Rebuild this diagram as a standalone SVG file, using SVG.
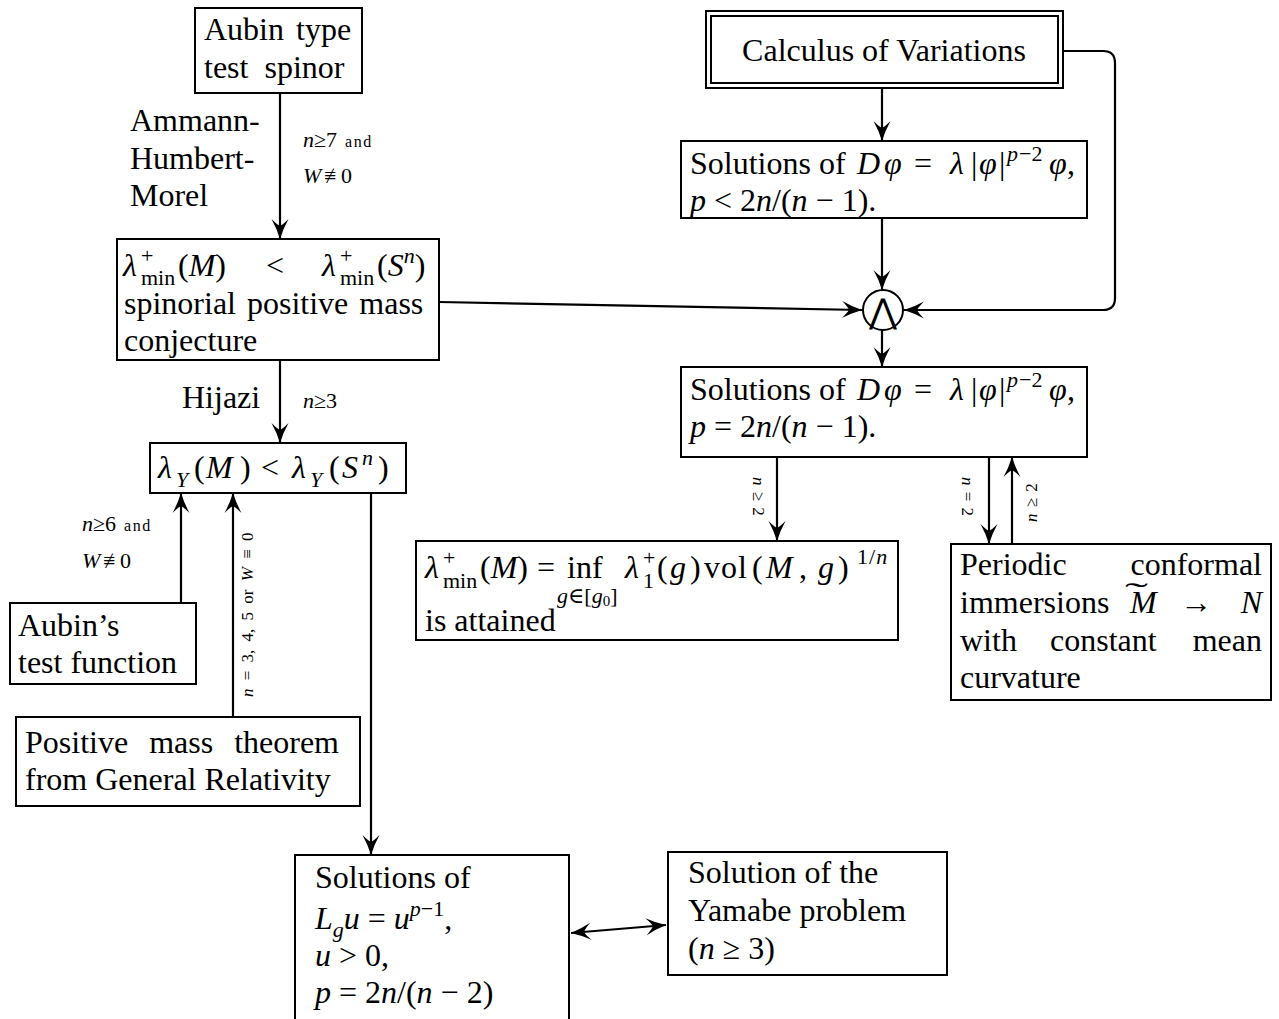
<svg xmlns="http://www.w3.org/2000/svg" width="1279" height="1019" viewBox="0 0 1279 1019">
<style>
.b{fill:#fff;stroke:#000;stroke-width:2}
text{font-family:"Liberation Serif","DejaVu Serif",serif;font-size:32px;fill:#000}
.i{font-style:italic}
.s{font-size:22px}
.m{font-size:22px}
.a{font-size:16px;letter-spacing:1.5px}
.r{font-size:17px}
.c{fill:none;stroke:#000;stroke-width:2.2;marker-end:url(#ah)}
</style>
<defs>
<marker id="ah" viewBox="-22 -10 23 20" refX="0" refY="0" markerWidth="23" markerHeight="20" markerUnits="userSpaceOnUse" orient="auto-start-reverse">
<path d="M0,0 Q-11,-3.5 -20,-8.5 Q-14.5,-3 -13,0 Q-14.5,3 -20,8.5 Q-11,3.5 0,0 Z" fill="#000"/>
</marker>
</defs>

<g id="connectors">
<path class="c" d="M280,93 V239"/>
<path class="c" d="M280,360 V443"/>
<path class="c" d="M181,603 V493"/>
<path class="c" d="M233,717 V493"/>
<path class="c" d="M371,493 V855"/>
<path class="c" d="M571,933 L666,925" style="marker-start:url(#ah)"/>
<path class="c" d="M882,88 V141"/>
<path class="c" d="M882,218 V290"/>
<path class="c" d="M439,302 L862,310"/>
<path class="c" d="M1063,51 H1103 Q1115,51 1115,63 V298 Q1115,310 1103,310 H904"/>
<path class="c" d="M882,330 V367"/>
<path class="c" d="M777,457 V541"/>
<path class="c" d="M989,457 V544"/>
<path class="c" d="M1012,544 V457"/>
</g>

<g id="labels">
<text x="130" y="131">Ammann-</text>
<text x="130" y="169">Humbert-</text>
<text x="130" y="206">Morel</text>
<text x="303" y="147" class="m"><tspan class="i">n</tspan>≥7<tspan class="a" dx="8">and</tspan></text>
<text x="303" y="183" class="m"><tspan class="i">W</tspan><tspan x="324">≢</tspan><tspan x="341">0</tspan></text>
<text x="182" y="408">Hijazi</text>
<text x="303" y="408" class="m"><tspan class="i">n</tspan>≥3</text>
<text x="82" y="531" class="m"><tspan class="i">n</tspan>≥6<tspan class="a" dx="8">and</tspan></text>
<text x="82" y="568" class="m"><tspan class="i">W</tspan><tspan x="103">≢</tspan><tspan x="120">0</tspan></text>
<text class="r" transform="translate(253,697) rotate(-90)" word-spacing="4"><tspan class="i">n</tspan> = 3, 4, 5 or <tspan class="i">W</tspan> ≡ 0</text>
<text class="r" transform="translate(753,477) rotate(90)" word-spacing="2"><tspan class="i">n</tspan> ≥ 2</text>
<text class="r" transform="translate(962,477) rotate(90)" word-spacing="2"><tspan class="i">n</tspan> = 2</text>
<text class="r" transform="translate(1037,522) rotate(-90)" word-spacing="2"><tspan class="i">n</tspan> ≥ 2</text>
</g>

<g id="aubin-spinor">
<rect class="b" x="195" y="8" width="167" height="85"/>
<text x="204" y="40" word-spacing="4">Aubin type</text>
<text x="204" y="78" word-spacing="8">test spinor</text>
</g>

<g id="spinorial-pmc">
<rect class="b" x="117" y="239" width="322" height="121"/>
<text x="123" y="276" class="i">λ</text>
<text x="141" y="263" class="s">+</text>
<text x="141" y="285" class="s">min</text>
<text x="178" y="276">(<tspan class="i">M</tspan>)</text>
<text x="266" y="276">&lt;</text>
<text x="322" y="276" class="i">λ</text>
<text x="340" y="263" class="s">+</text>
<text x="340" y="285" class="s">min</text>
<text x="377" y="276">(<tspan class="i">S</tspan><tspan class="s i" dy="-13">n</tspan><tspan dy="13">)</tspan></text>
<text x="124" y="314" word-spacing="3">spinorial positive mass</text>
<text x="124" y="351">conjecture</text>
</g>

<g id="yamabe-ineq">
<rect class="b" x="150" y="443" width="256" height="50"/>
<text x="158" y="478" class="i">λ</text>
<text x="176" y="487" class="s i">Y</text>
<text x="194" y="478">(</text>
<text x="206" y="478" class="i">M</text>
<text x="240" y="478">)</text>
<text x="261" y="478">&lt;</text>
<text x="292" y="478" class="i">λ</text>
<text x="310" y="487" class="s i">Y</text>
<text x="329" y="478">(</text>
<text x="342" y="478" class="i">S</text>
<text x="362" y="465" class="s i">n</text>
<text x="378" y="478">)</text>
</g>

<g id="aubin-test-function">
<rect class="b" x="10" y="603" width="186" height="81"/>
<text x="18" y="636">Aubin’s</text>
<text x="18" y="673">test function</text>
</g>

<g id="positive-mass">
<rect class="b" x="16" y="717" width="344" height="89"/>
<text x="25" y="753" word-spacing="13">Positive mass theorem</text>
<text x="25" y="790">from General Relativity</text>
</g>

<g id="solutions-lg">
<rect class="b" x="295" y="855" width="274" height="200"/>
<text x="315" y="888">Solutions of</text>
<text x="315" y="929"><tspan class="i">L</tspan><tspan class="s i" dy="8">g</tspan><tspan class="i" dy="-8">u</tspan> = <tspan class="i">u</tspan><tspan class="s" dy="-13"><tspan class="i">p</tspan>−1</tspan><tspan dy="13">,</tspan></text>
<text x="315" y="966"><tspan class="i">u</tspan> &gt; 0,</text>
<text x="315" y="1003"><tspan class="i">p</tspan> = 2<tspan class="i">n</tspan>/(<tspan class="i">n</tspan> − 2)</text>
</g>

<g id="yamabe-solution">
<rect class="b" x="668" y="852" width="279" height="123"/>
<text x="688" y="883">Solution of the</text>
<text x="688" y="921">Yamabe problem</text>
<text x="688" y="959">(<tspan class="i">n</tspan> ≥ 3)</text>
</g>

<g id="calculus">
<rect class="b" x="706" y="11" width="357" height="77"/>
<rect class="b" x="711" y="16" width="347" height="67"/>
<text x="884" y="61" text-anchor="middle">Calculus of Variations</text>
</g>

<g id="solutions-subcritical">
<rect class="b" x="681" y="141" width="406" height="77"/>
<text x="690" y="174">Solutions of <tspan x="857" class="i">D</tspan><tspan x="884" class="i">φ</tspan><tspan x="914">=</tspan><tspan x="950" class="i">λ</tspan><tspan x="971">|</tspan><tspan x="979" class="i">φ</tspan><tspan x="999">|</tspan><tspan x="1007" dy="-13" class="s i">p</tspan><tspan x="1019" class="s">−2</tspan><tspan x="1049" dy="13" class="i">φ</tspan><tspan x="1067">,</tspan></text>
<text x="690" y="211"><tspan class="i">p</tspan> &lt; 2<tspan class="i">n</tspan>/(<tspan class="i">n</tspan> − 1).</text>
</g>

<g id="wedge">
<circle cx="883" cy="310" r="20" fill="#fff" stroke="#000" stroke-width="2"/>
<text x="883" y="323" text-anchor="middle" style="font-family:'DejaVu Serif',serif;font-size:34px">⋀</text>
</g>

<g id="solutions-critical">
<rect class="b" x="681" y="367" width="406" height="90"/>
<text x="690" y="400">Solutions of <tspan x="857" class="i">D</tspan><tspan x="884" class="i">φ</tspan><tspan x="914">=</tspan><tspan x="950" class="i">λ</tspan><tspan x="971">|</tspan><tspan x="979" class="i">φ</tspan><tspan x="999">|</tspan><tspan x="1007" dy="-13" class="s i">p</tspan><tspan x="1019" class="s">−2</tspan><tspan x="1049" dy="13" class="i">φ</tspan><tspan x="1067">,</tspan></text>
<text x="690" y="437"><tspan class="i">p</tspan> = 2<tspan class="i">n</tspan>/(<tspan class="i">n</tspan> − 1).</text>
</g>

<g id="lambda-attained">
<rect class="b" x="416" y="541" width="482" height="99"/>
<text x="425" y="578" class="i">λ</text>
<text x="443" y="565" class="s">+</text>
<text x="443" y="588" class="s">min</text>
<text x="480" y="578">(<tspan class="i">M</tspan>)</text>
<text x="537" y="578">=</text>
<text x="567" y="578">inf</text>
<text x="557" y="603" class="s"><tspan class="i">g</tspan>∈[<tspan class="i">g</tspan><tspan style="font-size:15px" dy="3">0</tspan><tspan dy="-3">]</tspan></text>
<text x="625" y="578" class="i">λ</text>
<text x="643" y="565" class="s">+</text>
<text x="643" y="588" class="s">1</text>
<text x="657" y="578">(<tspan x="670" class="i">g</tspan><tspan x="690">)</tspan><tspan x="704" letter-spacing="1">vol</tspan><tspan x="752">(</tspan><tspan x="766" class="i">M</tspan><tspan x="799">,</tspan><tspan x="818" class="i">g</tspan><tspan x="838">)</tspan></text>
<text x="857" y="564" class="s" letter-spacing="1">1/<tspan class="i">n</tspan></text>
<text x="425" y="631">is attained</text>
</g>

<g id="periodic-immersions">
<rect class="b" x="951" y="544" width="320" height="156"/>
<text x="960" y="575">Periodic</text>
<text x="1262" y="575" text-anchor="end">conformal</text>
<text x="960" y="613">immersions</text>
<text x="1130" y="613" class="i">M</text>
<text transform="translate(1125,603) scale(2.3,1)" style="font-size:30px">˜</text>
<text x="1180" y="613">→</text>
<text x="1262" y="613" text-anchor="end" class="i">N</text>
<text x="960" y="651">with</text>
<text x="1050" y="651">constant</text>
<text x="1262" y="651" text-anchor="end">mean</text>
<text x="960" y="688">curvature</text>
</g>
</svg>
